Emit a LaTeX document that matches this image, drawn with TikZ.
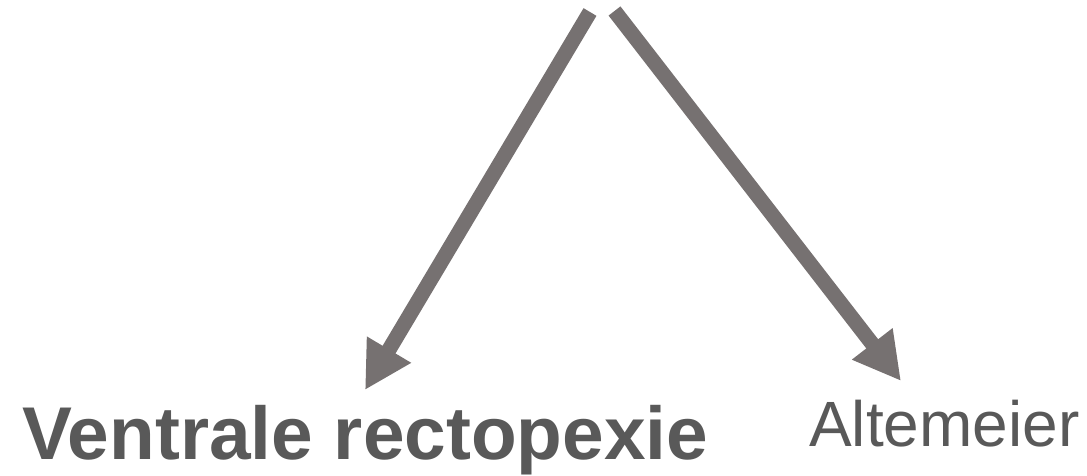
\documentclass[tikz,border=0pt]{standalone}
\usepackage{fontspec}
\setmainfont{Liberation Sans}
\usepackage{xcolor}
\usetikzlibrary{arrows.meta}

\definecolor{pijlgrijs}{HTML}{767171}
\definecolor{tekstgrijs}{HTML}{595959}

\begin{document}
\begin{tikzpicture}[x=1pt,y=1pt,
    pijl/.style={draw=pijlgrijs, line width=15pt, -{Triangle[length=47pt,width=48pt]}},
    keuze/.style={inner sep=0pt, text=tekstgrijs}]
      % \draw[help lines, gray!50, very thin] (0,0) grid[step=50] (1087,475);
      \useasboundingbox (0,0) rectangle (1087,475);

      \coordinate (startL) at (590,463);
      \coordinate (startR) at (614.5,464);
      \coordinate (eindL) at (365,85);
      \coordinate (eindR) at (901,94);

      \node[keuze, anchor=base west, font=\fontsize{74.8}{82}\selectfont\bfseries] (ventraal) at (22,16) {Ventrale rectopexie};
      \node[keuze, anchor=base west, font=\fontsize{64}{72}\selectfont] (altemeier) at (809,29) {Altemeier};

      \draw[pijl] (startL) -- (eindL);
      \draw[pijl] (startR) -- (eindR);
\end{tikzpicture}
\end{document}
